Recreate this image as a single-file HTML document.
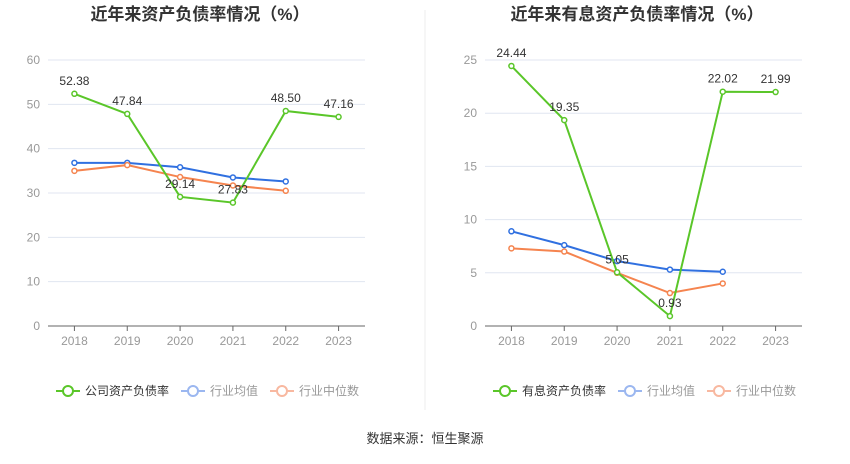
<!DOCTYPE html>
<html><head><meta charset="utf-8"><style>
body{margin:0;background:#fff;width:850px;height:459px;overflow:hidden;font-family:"Liberation Sans","Noto Sans CJK SC",sans-serif}
</style></head><body>
<svg width="850" height="459" xmlns="http://www.w3.org/2000/svg" style="font-family:'Liberation Sans','Noto Sans CJK SC',sans-serif">
<text x="200" y="20" text-anchor="middle" font-size="17" font-weight="bold" fill="#333">近年来资产负债率情况（%）</text>
<text x="637" y="20" text-anchor="middle" font-size="17" font-weight="bold" fill="#333">近年来有息资产负债率情况（%）</text>
<line x1="425" y1="10" x2="425" y2="410" stroke="#eee"/>
<g id="left"></g>
<g id="right"></g>
<text x="425" y="443" text-anchor="middle" font-size="13" fill="#333">数据来源：恒生聚源</text>
</svg>
<script>
const years=["2018","2019","2020","2021","2022","2023"];
const leftCompany=[52.38,47.84,29.14,27.83,48.50,47.16];
const leftAvg=[36.8,36.8,35.8,33.5,32.6];
const leftMed=[35.0,36.3,33.6,31.7,30.5];
const leftTicks=[0,10,20,30,40,50,60];
const rightCompany=[24.44,19.35,5.05,0.93,22.02,21.99];
const rightAvg=[8.9,7.6,6.1,5.3,5.1];
const rightMed=[7.3,7.0,5.0,3.1,4.0];
const rightTicks=[0,5,10,15,20,25];
const NS="http://www.w3.org/2000/svg";
function mk(p,t,a){const e=document.createElementNS(NS,t);for(const k in a)e.setAttribute(k,a[k]);p.appendChild(e);return e;}
function chart(g,x0,x1,ticks,comp,avg,med,compName){
  const y0=326,y1=60,max=ticks[ticks.length-1];
  const sy=v=>y0-(v/max)*(y0-y1);
  const step=(x1-x0)/years.length;
  const sx=i=>x0+step*(i+0.5);
  ticks.forEach(t=>{
    const l=mk(g,'line',{x1:x0,x2:x1,y1:sy(t),y2:sy(t),stroke:t===0?'#666':'#e0e6f1'});
    
    
    const tx=mk(g,'text',{x:x0-8,y:sy(t)+4,'text-anchor':'end','font-size':12,fill:'#999'});
    tx.textContent=t;
    
    
  });
  years.forEach((y,i)=>{
    const tk=mk(g,'line',{x1:sx(i),x2:sx(i),y1:y0,y2:y0+5,stroke:'#666'});
    
    
    const tx=mk(g,'text',{x:sx(i),y:y0+19,'text-anchor':'middle','font-size':12,fill:'#999'});
    tx.textContent=y;
    
    
  });
  function series(vals,color,name,labels){
    const pl=mk(g,'polyline',{points:vals.map((v,i)=>sx(i)+','+sy(v)).join(' '),fill:'none',stroke:color,'stroke-width':2});
    
    
    vals.forEach((v,i)=>{
      const c=mk(g,'circle',{cx:sx(i),cy:sy(v),r:2.5,fill:'#fff',stroke:color,'stroke-width':1.5});
      
      
      if(labels){
        const t=mk(g,'text',{x:sx(i),y:sy(v)-9,'text-anchor':'middle','font-size':12,fill:'#333'});
        t.textContent=v.toFixed(2);
        
        
      }
    });
  }
  series(avg,'#3070e0','industry-avg',false);
  series(med,'#f5844f','industry-median',false);
  series(comp,'#5ac629','company',true);
  const lx=x0+8,ly=391;
  const items=[[compName,'#5ac629','#333'],['行业均值','#9bb7f0','#999'],['行业中位数','#f8b8a0','#999']];
  let cx=lx;
  items.forEach(([n,c,tc])=>{
    const l=mk(g,'line',{x1:cx,x2:cx+24,y1:ly,y2:ly,stroke:c,'stroke-width':2});
    
    
    const ci=mk(g,'circle',{cx:cx+12,cy:ly,r:5,fill:'#fff',stroke:c,'stroke-width':2});
    
    
    const t=mk(g,'text',{x:cx+29,y:ly+4,'font-size':12,fill:tc});
    t.textContent=n;
    
    
    cx+=29+n.length*12+12;
  });
}
chart(document.getElementById('left'),48,365,leftTicks,leftCompany,leftAvg,leftMed,'公司资产负债率');
chart(document.getElementById('right'),485,802,rightTicks,rightCompany,rightAvg,rightMed,'有息资产负债率');
</script>
</body></html>
